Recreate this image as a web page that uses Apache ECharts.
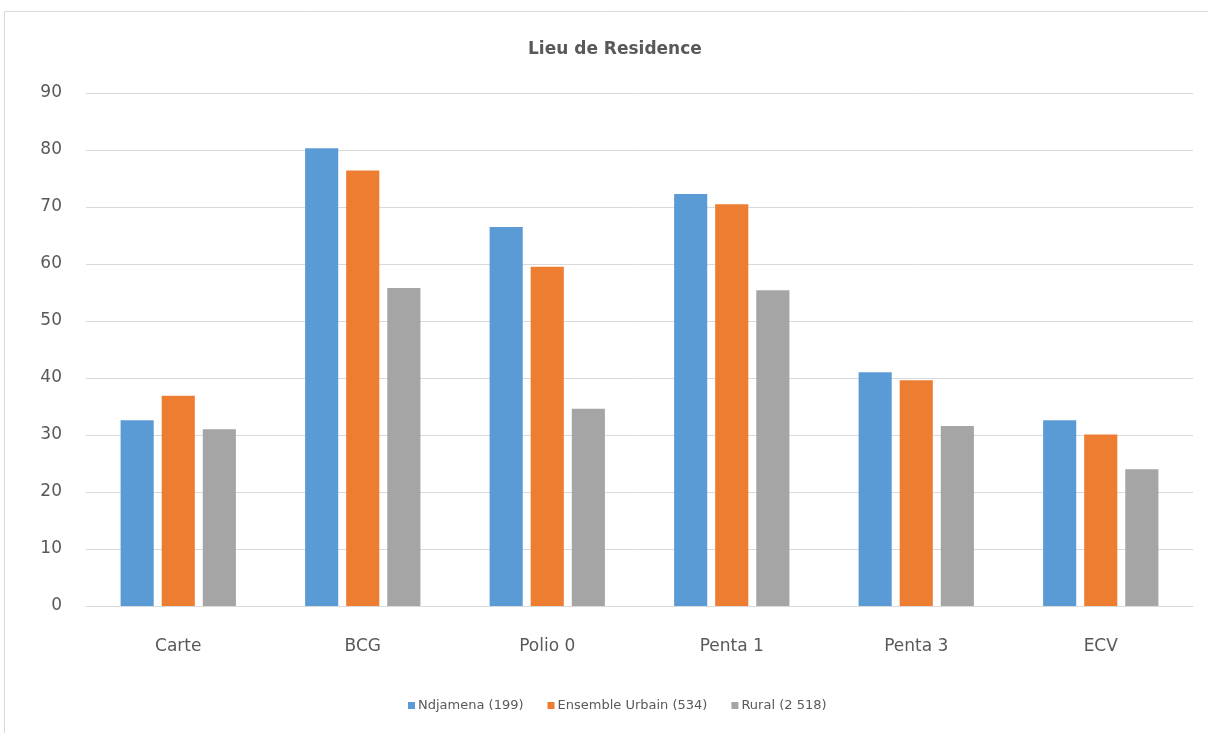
<!DOCTYPE html>
<html>
<head>
<meta charset="utf-8">
<script src="https://cdn.jsdelivr.net/npm/echarts@6/dist/echarts.min.js"></script>
<style>
  html, body { margin: 0; padding: 0; background: #fff; }
  #chart { width: 1208px; height: 733px; }
</style>
</head>
<body>
<div id="chart"></div>
<script>
const categories = ['Carte', 'BCG', 'Polio 0', 'Penta 1', 'Penta 3', 'ECV'];
const seriesNames = ['Ndjamena (199)', 'Ensemble Urbain (534)', 'Rural (2 518)'];
const ndjamena = [32.6, 80.3, 66.5, 72.3, 41.0, 32.6];
const urbain = [36.9, 76.4, 59.5, 70.5, 39.6, 30.1];
const rural = [31.0, 55.8, 34.6, 55.4, 31.6, 24.0];
const colors = ['#5b9bd5', '#ed7d31', '#a5a5a5'];

const chart = echarts.init(document.getElementById('chart'));
const font = 'DejaVu Sans, sans-serif';

chart.setOption({
  animation: false,
  graphic: [{
    type: 'rect',
    shape: { x: 4.5, y: 11.5, width: 1210, height: 730 },
    style: { fill: 'none', stroke: '#d9d9d9', lineWidth: 1 }
  }],
  title: {
    text: 'Lieu de Residence',
    left: 523,
    top: 36,
    textStyle: { fontFamily: font, fontSize: 17, fontWeight: 'bold', color: '#595959' }
  },
  legend: {
    data: seriesNames,
    bottom: 16,
    left: 403,
    itemWidth: 7,
    itemHeight: 7,
    itemGap: 24,
    icon: 'rect',
    textStyle: { fontFamily: font, fontSize: 13, color: '#595959', padding: [0, 0, 0, -2] }
  },
  grid: { left: 86, right: 15, top: 93, bottom: 127, containLabel: false },
  xAxis: {
    type: 'category',
    data: categories,
    axisLine: { lineStyle: { color: '#d9d9d9' } },
    axisTick: { show: false },
    axisLabel: { fontFamily: font, fontSize: 17, color: '#595959', margin: 32 }
  },
  yAxis: {
    type: 'value',
    min: 0,
    max: 90,
    interval: 10,
    axisLine: { show: false },
    axisTick: { show: false },
    splitLine: { lineStyle: { color: '#d9d9d9' } },
    axisLabel: { fontFamily: font, fontSize: 17, color: '#595959', margin: 24 }
  },
  series: [
    { name: seriesNames[0], type: 'bar', data: ndjamena, itemStyle: { color: colors[0] }, barGap: '24%', barCategoryGap: '37.5%' },
    { name: seriesNames[1], type: 'bar', data: urbain, itemStyle: { color: colors[1] } },
    { name: seriesNames[2], type: 'bar', data: rural, itemStyle: { color: colors[2] } }
  ]
});
</script>
</body>
</html>
